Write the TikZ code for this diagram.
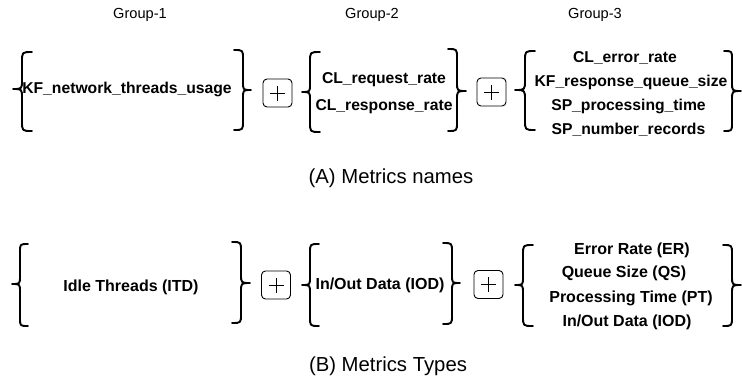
\documentclass[tikz,border=0pt]{standalone}
\usepackage{fontspec}
\setmainfont{Liberation Sans}
\tikzset{
  bracestroke/.style={line width=1.9pt, line cap=round, line join=round},
  metricA/.style={font=\bfseries\fontsize{15.7}{18}\selectfont, inner sep=0pt, anchor=center},
  metricB/.style={font=\bfseries\fontsize{16}{18}\selectfont, inner sep=0pt, anchor=center},
  grouplabel/.style={font=\fontsize{14.6}{17}\selectfont, inner sep=0pt, anchor=center},
  caption/.style={font=\fontsize{20.3}{24}\selectfont, inner sep=0pt, anchor=center},
  plusbox/.style={draw, rounded corners=4pt, minimum width=29pt, minimum height=28pt, line width=0.9pt, inner sep=0pt},
  plussign/.style={line width=0.9pt}
}
% tip x, vertical x, end x, top y, mid y, bottom y
\newcommand\Brc[6]{%
  \draw[bracestroke] (#3,#4) .. controls (#2,#4) .. (#2,{#4+abs(#3-#2)})
    -- (#2,{#5-abs(#2-#1)}) .. controls (#2,#5) .. (#1,#5)
    .. controls (#2,#5) .. (#2,{#5+abs(#2-#1)})
    -- (#2,{#6-abs(#3-#2)}) .. controls (#2,#6) .. (#3,#6);}
\newcommand\PlusAt[3]{% name, x, y
  \node[plusbox] (#1) at (#2,#3) {};
  \draw[plussign] ([xshift=-7.5pt]#1.center) -- ([xshift=7.5pt]#1.center);
  \draw[plussign] ([yshift=-7.5pt]#1.center) -- ([yshift=7.5pt]#1.center);}
\begin{document}
\begin{tikzpicture}[x=1pt,y=-1pt]
\fill[white] (0,0) rectangle (742,383);
\useasboundingbox (0,0) rectangle (742,383);

% group labels
\node[grouplabel] (lab1) at (140,15) {Group-1};
\node[grouplabel] (lab2) at (372,15) {Group-2};
\node[grouplabel] (lab3) at (595,15) {Group-3};

% ---------- Row A ----------
\Brc{13}{22}{32}{52}{89}{131}
\node[metricA] (a1) at (127,89) {KF\_network\_threads\_usage};
\Brc{251}{243}{234}{50}{90}{130}
\PlusAt{pa1}{277.5}{93}
\Brc{302}{310}{320}{52}{92}{132}
\node[metricA] (a21) at (384,80) {CL\_request\_rate};
\node[metricA] (a22) at (384,107) {CL\_response\_rate};
\Brc{466}{457}{448}{49}{91}{131}
\PlusAt{pa2}{491.5}{92}
\Brc{515}{525}{535}{51}{90}{130}
\node[metricA] (a31) at (625,57.5) {CL\_error\_rate};
\node[metricA] (a32) at (631,82) {KF\_response\_queue\_size};
\node[metricA] (a33) at (628.5,106) {SP\_processing\_time};
\node[metricA] (a34) at (628.5,130) {SP\_number\_records};
\Brc{741}{732}{724}{51}{91}{131}

\node[caption] (capA) at (391,178) {(A) Metrics names};

% ---------- Row B ----------
\Brc{12}{20}{28}{244}{284}{326}
\node[metricB] (b1) at (131,287) {Idle Threads (ITD)};
\Brc{250}{241}{232}{242}{283}{323}
\PlusAt{pb1}{276}{285}
\Brc{302}{310}{319}{244}{285}{326}
\node[metricB] (b2) at (380,285) {In/Out Data (IOD)};
\Brc{460}{452}{443}{243}{283}{324}
\PlusAt{pb2}{488.5}{284.5}
\Brc{515}{523}{533}{245}{285}{326}
\node[metricB] (b31) at (632,250) {Error Rate (ER)};
\node[metricB] (b32) at (624,273) {Queue Size (QS)};
\node[metricB] (b33) at (631,298) {Processing Time (PT)};
\node[metricB] (b34) at (627,322) {In/Out Data (IOD)};
\Brc{741}{732}{723}{245}{285}{326}

\node[caption] (capB) at (388,366) {(B) Metrics Types};
\end{tikzpicture}
\end{document}
